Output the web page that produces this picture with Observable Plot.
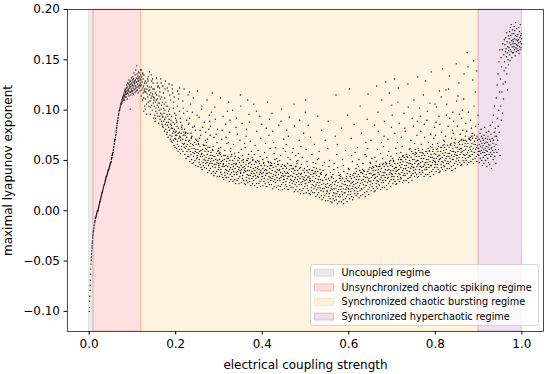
<!DOCTYPE html>
<html><head><meta charset="utf-8">
<script src="https://cdn.jsdelivr.net/npm/d3@7"></script>
<script src="https://cdn.jsdelivr.net/npm/@observablehq/plot@0.6"></script>
<style>body{margin:0;background:#fff;} #chart{width:550px;height:374px;}</style>
</head><body><div id="chart"></div>
<script>
// ---- regimes (shaded spans + legend) ----
const regimeNames = ["Uncoupled regime", "Unsynchronized chaotic spiking regime", "Synchronized chaotic bursting regime", "Synchronized hyperchaotic regime"];
const regimeStart = [0, 0.01, 0.12, 0.9];
const regimeEnd = [0.01, 0.12, 0.9, 1.0];
const regimeColors = ["#808080", "#ff0000", "#ffa500", "#800080"];
const regimeAlpha = [0.15, 0.12, 0.12, 0.12];

// ---- ticks ----
const xTicks = [0, 0.2, 0.4, 0.6, 0.8, 1.0];
const yTicks = [-0.10, -0.05, 0.00, 0.05, 0.10, 0.15, 0.20];

// ---- scatter values (y in thousandths), grouped in x bins ----
// rising branch: bins of width 0.005 starting at x = 0
const riseStart = 0, riseWidth = 0.005;
const riseY = [
 [-100,-96,-90,-85,-79,-74,-69,-63,-58,-53,-49],
 [-46,-43,-40,-37,-35,-32,-30,-27,-25,-24,-22,-20],
 [-20,-18,-17,-15,-14,-12,-11,-10,-8,-7],
 [-7,-6,-5,-4,-3,-2,-1,0,0],
 [0,1,2,3,4,5,6,7,8,9],
 [9,10,11,12,13,14,15,16,17,18],
 [18,19,20,21,22,23,24,25,26],
 [26,27,28,29,30,31,32,33,34],
 [34,35,36,37,38,39,40,41],
 [41,42,43,44,45,46,47,48],
 [48,49,51,52,53,55,56,57,58],
 [58,60,61,63,64,66,67,69,70,71],
 [71,73,75,76,78,80,82,83,85,87],
 [87,89,90,92,93,95,96,97,99,100],
 [100,102,101,104,103,106,105,107,108,106],
 [108,110,107,112,109,113,111,114,110,115],
 [112,117,114,110,119,115,121,113,118,116,120],
 [118,113,122,116,125,119,111,123,117,127,120],
 [121,116,126,119,130,114,124,122,128,118,125,101],
 [123,118,129,115,126,121,132,119,127,124,117,130],
 [125,119,133,122,128,116,131,124,137,120,127,129],
 [126,121,135,118,130,124,140,122,128,132,119,144],
 [128,123,136,120,131,126,134,117,129,138,124,132],
 [129,122,137,125,133,119,131,127,140,124,135,130]
];
// main cloud: bins of width 0.01 starting at x = 0.12
const cloudStart = 0.12, cloudWidth = 0.01;
const bandY = [
 [125,114,133,120,128,110,122,131,117,124,112,135,119,127,121,118,129],
 [111,118,127,106,121,116,124,113,129,108,119,104,123,115],
 [120,109,103,117,112,123,105,114,100,116,121,107,113,110],
 [104,112,95,108,117,99,102,110,115,97,105,111,94,107],
 [103,87,100,107,94,91,111,97,101,89,105,96,108,93],
 [94,83,102,89,97,79,91,100,86,93,81,104,88,96],
 [78,85,94,73,88,83,91,80,96,75,86,71,90,82],
 [85,74,68,82,77,88,70,79,65,81,86,72,78,75],
 [71,79,62,75,84,66,69,77,82,64,72,78,61,74],
 [73,57,70,77,64,61,81,67,71,59,75,66,78,63],
 [67,56,75,62,70,52,64,73,59,66,54,77,61,69],
 [54,61,70,49,64,59,67,56,72,51,62,47,66,58],
 [65,54,48,62,57,68,50,59,45,61,66,52,58,55],
 [53,61,44,57,66,48,51,59,64,46,54,60,43,56],
 [57,41,54,61,48,45,65,51,55,43,59,50,62,47],
 [53,42,61,48,56,38,50,59,45,52,40,63,47,55],
 [42,49,58,37,52,47,55,44,60,39,50,35,54,46],
 [54,43,37,51,46,57,39,48,34,50,55,41,47,45],
 [43,51,34,47,56,38,41,49,54,36,44,50,33,46],
 [47,31,44,51,38,35,55,41,45,33,49,40,52,37],
 [44,33,52,39,47,29,41,50,36,43,31,54,38,46],
 [34,41,50,29,44,39,47,36,52,31,42,27,46,38],
 [47,36,30,44,39,50,32,41,27,43,48,34,40,38],
 [37,45,28,41,50,32,35,43,48,30,38,44,27,40],
 [42,26,39,46,33,30,50,36,40,28,44,35,47,32],
 [40,29,48,35,43,25,37,46,32,39,27,50,34,42],
 [30,37,46,25,40,35,43,32,48,27,38,23,42,34],
 [44,33,27,41,36,47,29,38,24,40,45,31,37,34],
 [34,42,25,38,47,29,32,40,45,27,35,41,24,37],
 [40,24,37,44,31,28,48,34,38,26,42,33,45,30],
 [37,26,45,32,40,22,34,43,29,36,24,47,31,39],
 [28,35,44,23,38,33,41,30,46,25,36,21,40,32],
 [41,30,24,38,33,44,26,35,21,37,42,28,34,31],
 [31,39,22,35,44,26,29,37,42,24,32,38,21,34],
 [37,21,34,41,28,25,45,31,35,23,39,30,42,27],
 [34,23,42,29,37,19,31,40,26,33,21,44,28,36],
 [24,31,40,19,34,29,37,26,42,21,32,17,36,28],
 [37,26,20,34,29,40,22,31,17,33,38,24,30,27],
 [27,35,18,31,40,22,25,33,38,20,28,34,17,30],
 [32,16,29,36,23,20,40,26,30,18,34,25,37,22],
 [29,18,37,24,32,14,26,35,21,28,16,39,23,31],
 [18,25,34,13,28,23,31,20,36,15,26,11,30,22],
 [30,19,13,27,22,33,15,24,10,26,31,17,23,20],
 [19,27,10,23,32,14,17,25,30,12,20,26,9,22],
 [24,8,21,28,15,12,32,18,22,10,26,17,29,14],
 [22,11,30,17,25,7,19,28,14,21,9,32,16,24],
 [14,21,30,9,24,19,27,16,32,11,22,7,26,18],
 [29,18,12,26,21,32,14,23,9,25,30,16,22,19],
 [21,29,12,25,34,16,19,27,32,14,22,28,11,24],
 [29,13,26,33,20,17,37,23,27,15,31,22,34,19],
 [28,17,36,23,31,13,25,34,20,27,15,38,22,30],
 [21,28,37,16,31,26,34,23,39,18,29,14,33,25],
 [36,25,19,33,28,39,21,30,16,32,37,23,29,26],
 [29,37,20,33,42,24,27,35,40,22,30,36,19,32],
 [36,20,33,40,27,24,44,30,34,22,38,29,41,26],
 [36,25,44,31,39,21,33,42,28,35,23,46,30,38],
 [28,35,44,23,38,33,41,30,46,25,36,21,40,32],
 [44,33,27,41,36,47,29,38,24,40,45,31,37,34],
 [36,44,27,40,49,31,34,42,47,29,37,43,26,39],
 [43,27,40,47,34,31,51,37,41,29,45,36,48,33],
 [43,32,51,38,46,28,40,49,35,42,30,53,37,45],
 [35,42,51,30,45,40,48,37,53,32,43,28,47,39],
 [50,39,33,47,42,53,35,44,30,46,51,37,43,40],
 [43,51,34,47,56,38,41,49,54,36,44,50,33,46],
 [50,34,47,54,41,38,58,44,48,36,52,43,55,40],
 [49,38,57,44,52,34,46,55,41,48,36,59,43,51],
 [41,48,57,36,51,46,54,43,59,38,49,34,53,45],
 [56,45,39,53,48,59,41,50,36,52,57,43,49,46],
 [48,56,39,52,61,43,46,54,59,41,49,55,38,51],
 [55,39,52,59,46,43,63,49,53,41,57,48,60,45],
 [55,44,63,50,58,40,52,61,47,54,42,65,49,57],
 [47,54,63,42,57,52,60,49,65,44,55,40,59,51],
 [62,51,45,59,54,65,47,56,42,58,63,49,55,52],
 [55,63,46,59,68,50,53,61,66,48,56,62,45,58],
 [62,46,59,66,53,50,70,56,60,48,64,55,67,52],
 [61,50,69,56,64,46,58,67,53,60,48,71,55,63],
 [54,61,70,49,64,59,67,56,72,51,62,47,66,58],
 [69,58,52,66,61,72,54,63,49,65,70,56,62,59],
 [62,55,71,48,66,59,77,52,64,69,57,81,60,74,50,67,63,45,72,58],
 [65,53,70,61,47,75,58,67,83,55,62,72,50,68,60,78,56,64,44,71],
 [59,68,52,74,63,48,66,79,56,61,71,46,65,85,58,69,54,76,62,42],
 [63,56,72,88,60,67,51,95,70,58,78,64,104,54,74,82,61,47],
 [66,112,74,58,125,92,70,136,84,61,100,148,78,118,160,55],
 [131,104,152,90,143,118,160,97,166,126,111,155,139,170],
 [148,165,128,158,172,142,161,153,177,136,168,157,120,163,150,174,145,159],
 [162,171,155,178,167,149,182,160,174,165,158,185,169,152,176,163,180,157,170,166],
 [168,157,176,163,183,171,160,179,166,154,174,187,162,170,158,181,165,173,161,169],
 [164,175,159,170,182,167,156,178,163,172,160,185,168,174,162,176,166,171]
];
// scattered points outside the band: [x offset inside the bin (thousandths), y (thousandths)]
const sparsePts = [
 [[3,137],[8,104],[1,140],[6,99],[4,136]],
 [[6,133],[2,96],[9,138],[5,131],[0,101]],
 [[4,129],[9,92],[3,135],[7,127],[1,96],[6,131]],
 [[8,123],[2,89],[5,132],[0,121],[7,127],[3,92],[9,124]],
 [[1,114],[6,127],[9,84],[3,118],[5,131],[7,113],[2,122],[8,86]],
 [[7,108],[0,124],[4,112],[9,76],[1,117],[6,129],[3,106],[5,121]],
 [[5,101],[2,119],[8,110],[4,126],[9,69],[1,104],[6,115],[3,99],[0,122]],
 [[0,94],[6,113],[4,102],[8,63],[2,121],[9,92],[5,108],[3,117],[7,97],[1,125]],
 [[2,88],[7,116],[0,95],[5,59],[9,122],[3,104],[6,111],[1,90],[8,99],[4,119]],
 [[3,83],[8,97],[1,88],[6,109],[0,92],[9,121],[4,85],[7,102]],
 [[2,77],[5,90],[8,115],[0,81],[6,99],[3,78],[9,86]],
 [[7,74],[4,106],[2,92],[6,73],[9,83],[1,118],[5,77],[8,98],[0,87]],
 [[6,71],[9,95],[5,80],[0,112],[8,70],[3,84]],
 [[1,69],[4,93],[7,75],[2,67],[9,101],[6,80],[0,119],[5,72]],
 [[8,70],[3,66],[6,88],[0,104],[9,78],[5,65],[2,83]],
 [[1,68],[7,95],[4,63],[9,75],[2,110],[6,81],[0,65],[8,89],[3,71]],
 [[5,61],[0,84],[8,73],[2,98],[6,64],[4,117]],
 [[9,62],[3,76],[7,59],[1,91],[5,68],[0,103],[8,60],[6,81]],
 [[2,58],[6,71],[9,94],[4,63],[0,57],[7,80],[3,112]],
 [[8,67],[1,55],[5,86],[3,60],[9,99],[6,73]],
 [[0,54],[4,78],[7,62],[2,108],[9,56],[5,90],[1,68],[6,59]],
 [[6,57],[9,83],[3,66],[1,100],[7,54]],
 [[4,53],[8,70],[0,92],[5,58],[2,76],[9,115],[7,52]],
 [[1,61],[6,51],[3,87],[9,67],[4,55],[0,104]],
 [[7,52],[2,74],[5,50],[9,96],[0,63],[8,56],[3,81],[6,110]],
 [[4,59],[0,88],[8,51],[2,69],[6,53]],
 [[9,50],[3,65],[6,99],[1,56],[7,79],[4,49],[0,106]],
 [[5,54],[8,86],[2,49],[6,72],[0,60],[4,94]],
 [[3,48],[7,67],[1,51],[9,82],[5,58]],
 [[0,53],[6,91],[3,49],[8,62],[2,108],[5,75],[9,48]],
 [[7,57],[1,47],[4,79],[9,51],[6,68],[2,97]],
 [[5,49],[0,63],[8,85],[3,52],[7,46]],
 [[2,55],[6,46],[9,71],[4,101],[0,50],[8,62],[3,89]],
 [[8,47],[3,59],[6,80],[1,45],[5,66],[9,53]],
 [[4,51],[0,74],[7,45],[2,93],[9,58]],
 [[6,44],[1,62],[9,49],[4,84],[7,55],[3,106]],
 [[0,47],[5,70],[8,43],[3,57],[6,90],[2,50],[9,64]],
 [[7,42],[2,53],[5,77],[0,46],[9,98]],
 [[3,49],[8,41],[1,61],[6,85],[4,44],[0,110]],
 [[9,43],[4,56],[6,40],[1,73],[7,48]],
 [[2,39],[7,51],[0,66],[5,42],[8,94],[3,47]],
 [[6,38],[1,59],[9,45],[4,37],[7,80],[0,52],[3,41]],
 [[8,36],[3,48],[5,70],[0,40],[6,35]],
 [[4,44],[9,34],[1,62],[7,38],[2,89],[5,50]],
 [[0,33],[6,47],[3,36],[8,74],[5,41]],
 [[7,35],[2,56],[9,32],[4,43],[0,115],[6,38],[3,66]],
 [[1,34],[5,51],[8,39],[3,82],[7,45],[0,36]],
 [[6,37],[2,60],[9,42],[4,34],[7,95]],
 [[3,36],[8,49],[0,41],[5,72],[9,35],[1,121],[6,55]],
 [[7,39],[4,58],[1,37],[9,46],[2,86],[6,42]],
 [[5,40],[0,63],[8,38],[3,51],[6,104],[2,44],[9,77]],
 [[1,41],[7,56],[4,40],[9,68],[2,47]],
 [[8,43],[2,91],[6,41],[0,54],[4,116],[9,48],[3,62]],
 [[5,44],[1,70],[7,43],[3,52],[9,85],[0,47]],
 [[2,45],[6,61],[9,44],[4,124],[0,53],[8,79],[3,49],[7,98]],
 [[9,47],[3,57],[6,110],[1,46],[5,68],[8,52]],
 [[4,48],[0,64],[7,47],[2,89],[9,55],[5,128],[1,74]],
 [[6,50],[2,59],[9,105],[4,49],[0,71],[7,54],[3,117],[8,83]],
 [[1,52],[5,131],[8,62],[3,50],[6,77],[0,95]],
 [[7,53],[2,68],[9,51],[4,122],[0,57],[6,87],[3,108]],
 [[5,55],[1,73],[8,53],[3,64],[7,97],[0,58],[9,82],[4,54]],
 [[2,56],[6,126],[9,61],[4,54],[0,79],[7,103]],
 [[8,57],[3,70],[0,55],[6,92],[1,62],[9,84],[5,59]],
 [[4,58],[9,133],[2,67],[6,57],[0,110],[7,75],[3,61],[8,89]],
 [[1,60],[6,79],[9,58],[3,102],[7,66],[0,62],[5,94]],
 [[8,59],[2,115],[5,73],[0,61],[7,129],[4,86]],
 [[3,62],[9,76],[6,60],[1,99],[4,68],[8,64],[0,90],[7,107]],
 [[5,61],[0,138],[8,83],[2,63],[6,72],[9,106],[3,66]],
 [[7,64],[1,88],[4,62],[9,119],[0,75],[5,67],[2,103],[8,94]],
 [[2,63],[6,141],[9,70],[3,113],[7,65],[0,86],[4,78]],
 [[0,66],[5,95],[8,65],[3,74],[6,106],[1,69],[9,84],[4,120]],
 [[6,67],[2,134],[9,80],[4,66],[0,121],[7,72],[3,92]],
 [[3,68],[8,146],[1,77],[5,67],[9,109],[2,89],[6,71],[0,98]],
 [[9,70],[4,127],[0,84],[6,69],[2,114],[7,76],[5,96]],
 [[1,71],[6,136],[3,80],[8,70],[0,92],[5,111],[9,74],[2,100]],
 [[7,72],[3,157],[0,87],[5,143],[9,71],[2,79],[6,98]],
 [[4,74],[8,149],[1,90],[6,130],[0,73],[3,82],[9,104],[5,77]],
 [[0,75],[5,139],[8,95],[2,118],[6,74],[3,84],[9,86]]
];

// ---- build tables for the library ----
function expand(bins, start, width) {
  const pts = [];
  bins.forEach((ys, b) => ys.forEach((v, i) => pts.push({x: start + b * width + (i + 0.5) / ys.length * width, y: v / 1000})));
  return pts;
}
const points = [
  ...expand(riseY, riseStart, riseWidth),
  ...expand(bandY, cloudStart, cloudWidth),
  ...sparsePts.flatMap((row, b) => row.map(([dx, v]) => ({x: cloudStart + b * cloudWidth + (dx + 0.5) / 1000, y: v / 1000})))
];
const regimes = regimeNames.map((name, i) => ({name, start: regimeStart[i], end: regimeEnd[i], color: regimeColors[i], alpha: regimeAlpha[i]}));

const font = "DejaVu Sans, Liberation Sans, sans-serif";
const plot = Plot.plot({
  width: 550, height: 374,
  marginLeft: 67, marginRight: 7, marginTop: 9, marginBottom: 43,
  style: {fontFamily: font, fontSize: "12px", background: "white", color: "black", overflow: "visible"},
  x: {domain: [-0.05, 1.05]},
  y: {domain: [-0.12, 0.2]},
  color: {type: "identity"},
  marks: [
    Plot.rect(regimes, {x1: "start", x2: "end", fill: "color", fillOpacity: "alpha", stroke: "color", strokeOpacity: 0.2, strokeWidth: 1}),
    Plot.dot(points, {x: "x", y: "y", r: 0.7, fill: "#111"}),
    Plot.frame({stroke: "#222", strokeWidth: 0.8}),
    Plot.axisX({ticks: xTicks, tickFormat: d3.format(".1f"), tickSize: 3.5, tickPadding: 4, label: "electrical coupling strength", labelAnchor: "center", labelArrow: "none", labelOffset: 37}),
    Plot.axisY({ticks: yTicks, tickFormat: d3.format(".2f"), tickSize: 3.5, tickPadding: 4, label: "maximal lyapunov exponent", labelAnchor: "center", labelArrow: "none", labelOffset: 64})
  ]
});

// ---- legend inside the frame, lower right ----
const svg = d3.select(plot);
const lg = svg.append("g").attr("font-family", font).attr("font-size", "9.7px").attr("text-anchor", "start");
lg.append("rect").attr("x", 310.5).attr("y", 264.5).attr("width", 228).attr("height", 61).attr("rx", 2)
  .attr("fill", "white").attr("fill-opacity", 0.8).attr("stroke", "#cccccc").attr("stroke-width", 0.8);
regimes.forEach((r, i) => {
  const cy = 272.7 + i * 14.6;
  lg.append("rect").attr("x", 314.5).attr("y", cy - 3.5).attr("width", 19).attr("height", 7)
    .attr("fill", r.color).attr("fill-opacity", r.alpha).attr("stroke", r.color).attr("stroke-opacity", 0.2);
  lg.append("text").attr("x", 341.5).attr("y", cy).attr("dy", "0.35em").attr("text-anchor", "start").attr("fill", "black").text(r.name);
});
document.getElementById("chart").appendChild(plot);
</script>
</body></html>
